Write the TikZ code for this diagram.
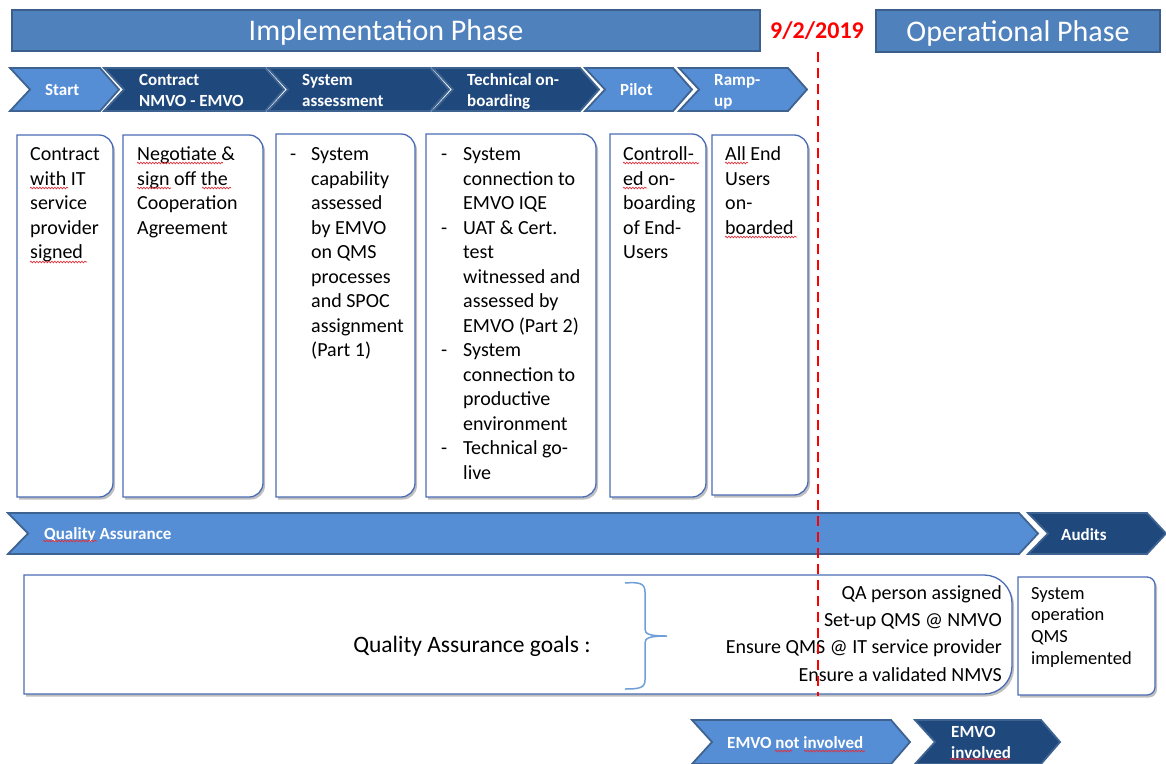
\documentclass[tikz,border=0pt]{standalone}
\usepackage{fontspec}
\setmainfont{Carlito}
\usetikzlibrary{shadows,decorations.pathmorphing}

\definecolor{hdrfill}{HTML}{4F81BD}
\definecolor{hdredge}{HTML}{3A5F8C}
\definecolor{chevlight}{HTML}{558ED5}
\definecolor{chevdark}{HTML}{1F497D}
\definecolor{chevedge}{HTML}{3E6391}
\definecolor{boxblue}{HTML}{4A6DB5}
\definecolor{bracecol}{HTML}{6F9FD8}
\definecolor{datered}{HTML}{FF0000}
\definecolor{spellred}{HTML}{E0303A}

\newcommand{\boxfont}{\fontsize{20}{24.5}\selectfont}
\newcommand{\goalfont}{\fontsize{20}{27.3}\selectfont}
\newcommand{\opfont}{\fontsize{18.5}{21.7}\selectfont}
\newcommand{\chevfont}{\fontsize{17}{21}\selectfont\bfseries}
\newcommand{\hdrfont}{\fontsize{30}{36}\selectfont}

% chevron: style, left x, tip x, top y, bottom y
\newcommand{\chev}[5]{%
  \draw[#1] (#2,#4) -- ({#3-19},#4) -- (#3,{(#4+#5)/2}) -- ({#3-19},#5)
    -- (#2,#5) -- ({#2+20},{(#4+#5)/2}) -- cycle;}
% box with rounded right-hand corners: left, top, right, bottom, radius
\newcommand{\rbox}[5]{%
  \draw[boxline] (#1,#2) -- ({#3-#5},#2)
    .. controls ({#3-0.45*#5},#2) and (#3,{#2+0.45*#5}) .. (#3,{#2+#5})
    -- (#3,{#4-#5})
    .. controls (#3,{#4-0.45*#5}) and ({#3-0.45*#5},#4) .. ({#3-#5},#4)
    -- (#1,#4) -- cycle;}
% wavy proofing underline: from x, to x, at y
\newcommand{\squig}[3]{\draw[squiggle] (#1,#3) -- (#2,#3);}

\tikzset{
  hdr/.style={fill=hdrfill, draw=hdredge, line width=2, inner sep=0},
  hdrtext/.style={anchor=base, inner sep=0, text=white, font=\hdrfont},
  lightchev/.style={fill=chevlight, draw=chevedge, line width=1.8},
  darkchev/.style={fill=chevdark, draw=chevedge, line width=1.8},
  chevlabel/.style={anchor=west, inner sep=0, text=white, font=\chevfont},
  boxline/.style={fill=white, draw=boxblue, line width=1.3,
    drop shadow={shadow xshift=2pt, shadow yshift=-2.5pt, opacity=0.25, fill=black}},
  boxtext/.style={anchor=north west, inner sep=0, font=\boxfont},
  squiggle/.style={draw=spellred, line width=0.7, decorate,
    decoration={snake, amplitude=0.8pt, segment length=3pt}},
}

\begin{document}
\begin{tikzpicture}[x=1pt, y=-1pt]
\useasboundingbox (0,0) rectangle (1166,763);

% phase headers
\node[hdr, minimum width=748, minimum height=41] (impl) at (386,30.5) {};
\node[hdrtext] (impltext) at (386,40.8) {Implementation Phase};
\node[hdr, minimum width=284, minimum height=42] (oper) at (1018,31) {};
\node[hdrtext] (opertext) at (1018,41) {Operational Phase};
\node[text=datered, font=\fontsize{24}{28}\selectfont\bfseries, inner sep=0] (date) at (817,31) {9/2/2019};

% step chevrons
\chev{lightchev}{10}{119}{68}{111}
\chev{darkchev}{104}{284}{68}{111}
\chev{darkchev}{268}{449}{68}{111}
\chev{darkchev}{433}{599}{68}{111}
\chev{lightchev}{585}{692}{68}{111}
\chev{lightchev}{679}{807}{68}{111}
\node[chevlabel] (s1) at (45,91.5) {\begin{tabular}{@{}l@{}}Start\end{tabular}};
\node[chevlabel] (s2) at (139,91.5) {\begin{tabular}{@{}l@{}}Contract\\NMVO - EMVO\end{tabular}};
\node[chevlabel] (s3) at (302,91.5) {\begin{tabular}{@{}l@{}}System\\assessment\end{tabular}};
\node[chevlabel] (s4) at (467,91.5) {\begin{tabular}{@{}l@{}}Technical on-\\boarding\end{tabular}};
\node[chevlabel] (s5) at (620,91.5) {\begin{tabular}{@{}l@{}}Pilot\end{tabular}};
\node[chevlabel] (s6) at (714,91.5) {\begin{tabular}{@{}l@{}}Ramp-\\up\end{tabular}};

% step description boxes
\rbox{17}{135}{113}{497}{14}
\rbox{123}{135}{263}{497}{14}
\rbox{276}{134}{415}{497}{14}
\rbox{426}{134}{596}{497}{14}
\rbox{610}{134}{706}{497}{14}
\rbox{712}{135}{808}{495}{14}

\node[boxtext] (t1) at (30,143.4) {\begin{tabular}{@{}l@{}}Contract\\with IT\\service\\provider\\signed\end{tabular}};
\node[boxtext] (t2) at (137,143.4) {\begin{tabular}{@{}l@{}}Negotiate \&\\sign off the\\Cooperation\\Agreement\end{tabular}};
\node[boxtext] (t3) at (290,143.4) {\begin{tabular}{@{}p{21pt}@{}l@{}}-&System\\&capability\\&assessed\\&by EMVO\\&on QMS\\&processes\\&and SPOC\\&assignment\\&(Part 1)\end{tabular}};
\node[boxtext] (t4) at (441,143.4) {\begin{tabular}{@{}p{22pt}@{}l@{}}-&System\\&connection to\\&EMVO IQE\\-&UAT \& Cert.\\&test\\&witnessed and\\&assessed by\\&EMVO (Part 2)\\-&System\\&connection to\\&productive\\&environment\\-&Technical go-\\&live\end{tabular}};
\node[boxtext] (t5) at (623,143.4) {\begin{tabular}{@{}l@{}}Controll-\\ed on-\\boarding\\of End-\\Users\end{tabular}};
\node[boxtext] (t6) at (725,143.4) {\begin{tabular}{@{}l@{}}All End\\Users\\on-\\boarded\end{tabular}};

% quality assurance banner
\chev{lightchev}{8}{1038}{513}{554}
\chev{darkchev}{1028}{1166}{513}{554}
\node[chevlabel] (qa) at (44,534.5) {Quality Assurance};
\node[chevlabel] (audits) at (1061,534.5) {Audits};

% quality assurance goals
\rbox{24}{575}{1012}{694}{28}
\node[anchor=base, inner sep=0, font=\fontsize{23.5}{28}\selectfont] (goalstitle) at (472,652.5) {Quality Assurance goals :};
\draw[bracecol, line width=1.5] (625,583) .. controls (639,582) and (645,583) .. (645,592)
  -- (645,629) .. controls (645,634) and (649,636) .. (667,636)
  .. controls (649,636) and (645,638) .. (645,643)
  -- (645,680) .. controls (645,688) and (639,689) .. (625,689);
\node[anchor=north east, inner sep=0, font=\goalfont] (goals) at (1002,580)
  {\begin{tabular}{@{}r@{}}QA person assigned\\Set-up QMS @ NMVO\\Ensure QMS @ IT service provider\\Ensure a validated NMVS\end{tabular}};

\rbox{1018}{577}{1155}{695}{8}
\node[anchor=north west, inner sep=0, font=\opfont] (optext) at (1031,583.8)
  {\begin{tabular}{@{}l@{}}System\\operation\\QMS\\implemented\end{tabular}};

% legend
\chev{lightchev}{692}{910}{720}{764}
\chev{darkchev}{915}{1060}{720}{764}
\node[chevlabel] (l1) at (727,744) {\begin{tabular}{@{}l@{}}EMVO not involved\end{tabular}};
\node[chevlabel] (l2) at (951,744) {\begin{tabular}{@{}l@{}}EMVO\\involved\end{tabular}};

% proofing underlines
\squig{30}{68}{188}
\squig{30}{87}{262}
\squig{137}{223}{163}
\squig{137}{171}{188}
\squig{202}{231}{188}
\squig{623}{699}{163}
\squig{623}{647}{188}
\squig{725}{748}{163}
\squig{725}{797}{237}
\squig{43}{97}{541}
\squig{775}{792}{751}
\squig{804}{865}{751}
\squig{950}{1010}{759}

% go-live date line
\coordinate (dtop) at (818,52);
\coordinate (dbot) at (818,696);
\draw[datered, line width=2.5, dash pattern=on 10pt off 6pt] (dtop) -- (dbot);
\end{tikzpicture}
\end{document}
